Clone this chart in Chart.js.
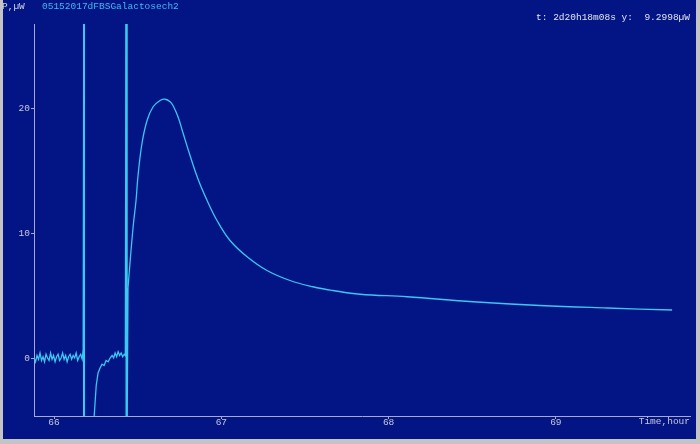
<!DOCTYPE html>
<html>
<head>
<meta charset="utf-8">
<script src="https://cdn.jsdelivr.net/npm/chart.js@4"></script>
<style>
  html, body { margin: 0; padding: 0; background: #031585; }
  #wrap { position: relative; width: 700px; height: 444px; overflow: hidden; }
  canvas { position: absolute; left: 0; top: 0; }
  .txt { position: absolute; font-family: "Liberation Mono", monospace; font-size: 9.5px; white-space: pre; line-height: 12px; }
  .frame { position: absolute; background: #c4c4c4; }
</style>
</head>
<body>
<div id="wrap">
  <canvas id="chart" width="700" height="444"></canvas>
  <div class="txt" style="left:2px; top:1px; color:#d4d4e4;">P,µW</div>
  <div class="txt" style="left:42px; top:1px; color:#44b8f0;">05152017dFBSGalactosech2</div>
  <div class="txt" style="right:10px; top:12px; color:#e4e4f0;">t: 2d20h18m08s y:  9.2998µW</div>
  <div class="txt" style="right:10px; top:416px; color:#c8c8dc;">Time,hour</div>
  <div class="frame" style="left:0; top:0; width:3px; height:444px;"></div>
  <div class="frame" style="right:0; top:0; width:4px; height:444px;"></div>
  <div class="frame" style="left:0; bottom:0; width:700px; height:5px;"></div>
</div>
<script>
// noisy baseline, both injections and the pause between them (hours, µW)
const baseTimes = [
  65.880, 65.889, 65.898, 65.907, 65.916, 65.925, 65.934, 65.943, 65.952, 65.961,
  65.970, 65.979, 65.988, 65.997, 66.006, 66.015, 66.024, 66.033, 66.042, 66.051,
  66.060, 66.069, 66.078, 66.087, 66.096, 66.105, 66.114, 66.123, 66.132, 66.141,
  66.150, 66.159, 66.168, 66.174, 66.179, 66.181,
  66.239, 66.252, 66.263, 66.275, 66.287, 66.299, 66.311, 66.323, 66.335, 66.347,
  66.356, 66.365, 66.374, 66.383, 66.392, 66.401, 66.410, 66.419, 66.426,
  66.432, 66.435, 66.442
];
const basePower = [
  0.0, -0.3, 0.2, -0.1, 0.4, -0.2, 0.1, -0.3, 0.3, 0.0,
  -0.2, 0.4, -0.1, 0.2, -0.3, 0.1, 0.3, -0.2, 0.0, 0.4,
  -0.1, 0.2, -0.3, 0.1, 0.3, -0.1, 0.2, 0.0, 0.4, -0.2,
  0.1, 0.3, -0.1, 0.7, 40, -10,
  -4.8, -2.2, -1.2, -0.8, -0.5, -0.6, -0.2, -0.3, 0.0, 0.2,
  0.0, 0.4, 0.1, 0.5, 0.2, 0.4, 0.1, 0.3, 0.2,
  40, -10, 5.6
];
// heat-flow peak and decay
const peakTimes = [
  66.442, 66.460, 66.475, 66.490, 66.502, 66.526, 66.556, 66.592, 66.634, 66.664,
  66.694, 66.711, 66.741, 66.771, 66.813, 66.861, 66.915, 66.974, 67.052, 67.154,
  67.273, 67.411, 67.548, 67.668, 67.829, 68.110, 68.505, 68.905, 69.306, 69.695
];
const peakPower = [
  5.6, 8.6, 10.8, 12.6, 14.6, 17.2, 19.0, 20.1, 20.6, 20.7,
  20.5, 20.2, 19.3, 18.0, 16.2, 14.3, 12.6, 11.0, 9.4, 8.1,
  7.0, 6.2, 5.7, 5.4, 5.1, 4.9, 4.5, 4.2, 4.0, 3.84
];
// vertical marker spikes
const spikeTimes = [66.179, 66.433];

const xTicks = [66, 67, 68, 69];
const yTicks = [0, 10, 20];

const axisColor = '#a8a8cc';
const labelColor = '#c8c8dc';
const lineColor = '#3cc6f0';
const font = { family: 'Liberation Mono', size: 9.5 };

const baseData = baseTimes.map((t, i) => ({ x: t, y: basePower[i] }));
const peakData = peakTimes.map((t, i) => ({ x: t, y: peakPower[i] }));
const spikeData = [];
spikeTimes.forEach(t => {
  spikeData.push({ x: t, y: -10 }, { x: t, y: 40 }, { x: t + 0.0001, y: null });
});

const bgPlugin = {
  id: 'bg',
  beforeDraw(chart) {
    const ctx = chart.ctx;
    ctx.save();
    ctx.fillStyle = '#031585';
    ctx.fillRect(0, 0, chart.width, chart.height);
    ctx.restore();
  }
};

new Chart(document.getElementById('chart'), {
  type: 'line',
  data: {
    datasets: [
      { data: baseData, borderColor: lineColor, borderWidth: 1.3, pointRadius: 0, tension: 0 },
      { data: peakData, borderColor: lineColor, borderWidth: 1.3, pointRadius: 0, tension: 0.4 },
      { data: spikeData, borderColor: '#12e4f2', borderWidth: 2, pointRadius: 0, spanGaps: false }
    ]
  },
  options: {
    responsive: false,
    animation: false,
    events: [],
    layout: { padding: { top: 24, right: 10, left: 0, bottom: 0 } },
    plugins: { legend: { display: false }, tooltip: { enabled: false } },
    scales: {
      x: {
        type: 'linear',
        min: 65.880,
        max: 69.802,
        afterFit(scale) { scale.height = 28; },
        afterBuildTicks(scale) { scale.ticks = xTicks.map(v => ({ value: v })); },
        ticks: { color: labelColor, font, padding: -2, maxRotation: 0 },
        grid: { drawOnChartArea: false, tickLength: 3, color: axisColor },
        border: { color: axisColor, width: 1 }
      },
      y: {
        min: -4.64,
        max: 26.72,
        afterFit(scale) { scale.width = 34; },
        afterBuildTicks(scale) { scale.ticks = yTicks.map(v => ({ value: v })); },
        ticks: { color: labelColor, font, padding: 1 },
        grid: { drawOnChartArea: false, tickLength: 3, color: axisColor },
        border: { color: axisColor, width: 1 }
      }
    }
  },
  plugins: [bgPlugin]
});
</script>
</body>
</html>
